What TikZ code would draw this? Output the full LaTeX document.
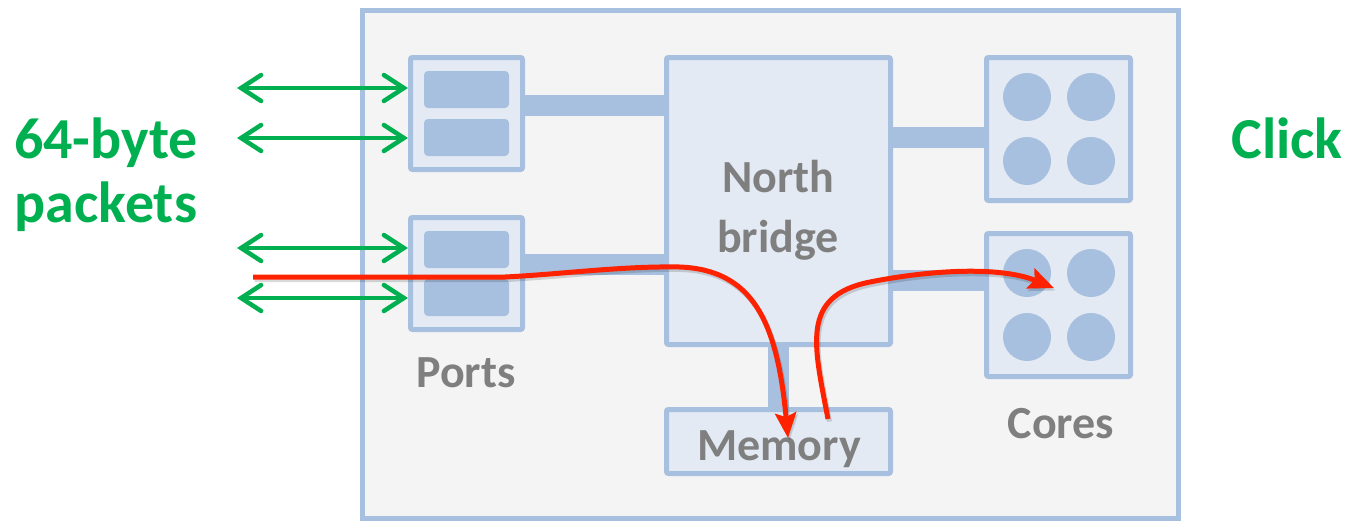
\documentclass[tikz,border=0pt]{standalone}
\usepackage{fontspec}
\setmainfont{Carlito}
\usetikzlibrary{arrows.meta}
\definecolor{boardfill}{HTML}{F4F4F4}
\definecolor{edgeblue}{HTML}{A7C0DF}
\definecolor{boxfill}{HTML}{E3EAF4}
\definecolor{labelgray}{HTML}{7F7F7F}
\definecolor{pktgreen}{HTML}{00B050}
\definecolor{pathred}{HTML}{FF2200}
\pgfdeclarelayer{boardlayer}
\pgfdeclarelayer{barlayer}
\pgfsetlayers{boardlayer,barlayer,main}
\begin{document}
\begin{tikzpicture}[x=1pt,y=-1pt,
  unit/.style={draw=edgeblue, fill=boxfill, line width=5pt, rounded corners=2pt, inner sep=0pt},
  slot/.style={fill=edgeblue, rounded corners=4pt, minimum width=85pt, minimum height=37pt, inner sep=0pt},
  core/.style={circle, fill=edgeblue, minimum size=48pt, inner sep=0pt},
  bar/.style={draw=edgeblue, line width=21pt},
  graylabel/.style={text=labelgray, font=\fontsize{46}{55}\selectfont\bfseries, anchor=base, inner sep=0pt},
  greenlabel/.style={text=pktgreen, font=\fontsize{58}{70}\selectfont\bfseries, anchor=base, inner sep=0pt},
  link/.style={pktgreen, line width=4.5pt, line cap=round, >={Straight Barb[length=20pt,width=26pt,line cap=round]}, <->},
  flow/.style={pathred, line width=5pt, -{Stealth[length=25pt,width=21pt,inset=4pt]}},
  flowshadow/.style={black, opacity=0.15, line width=5pt, -{Stealth[length=25pt,width=21pt,inset=4pt]},
    transform canvas={shift={(1.5pt,-2.5pt)}}}]
\useasboundingbox (0,0) rectangle (1349,520);

% the board
\begin{pgfonlayer}{boardlayer}
  \node[draw=edgeblue, fill=boardfill, line width=5pt, minimum width=816pt, minimum height=508pt, inner sep=0pt]
    (board) at (770.5,264) {};
\end{pgfonlayer}

% ports
\node[unit, minimum width=112pt, minimum height=112pt] (pA) at (466.5,113.5) {};
\node[unit, minimum width=112pt, minimum height=112pt] (pB) at (466.5,273.5) {};
\node[slot] (sA1) at (466.5,89.5) {};
\node[slot] (sA2) at (466.5,137.5) {};
\node[slot] (sB1) at (466.5,249.5) {};
\node[slot] (sB2) at (466.5,297.5) {};

% north bridge and memory
\node[unit, minimum width=224pt, minimum height=287pt] (nb) at (778.5,201) {};
\node[unit, minimum width=224pt, minimum height=64pt] (mem) at (778.5,441.5) {};

% cores
\node[unit, minimum width=144pt, minimum height=143pt] (cA) at (1058.5,129) {};
\node[unit, minimum width=144pt, minimum height=143pt] (cB) at (1058.5,305) {};
\node[core] (cA1) at (1027,97) {};
\node[core] (cA2) at (1091,97) {};
\node[core] (cA3) at (1027,161) {};
\node[core] (cA4) at (1091,161) {};
\node[core] (cB1) at (1027,273) {};
\node[core] (cB2) at (1091,273) {};
\node[core] (cB3) at (1027,337) {};
\node[core] (cB4) at (1091,337) {};

% buses between the units
\coordinate (busA) at (0,105.5);
\coordinate (busB) at (0,264.5);
\coordinate (busC) at (0,137.5);
\coordinate (busD) at (0,280.5);
\begin{pgfonlayer}{barlayer}
  \draw[bar] (pA.center |- busA) -- (nb.center |- busA);
  \draw[bar] (pB.center |- busB) -- (nb.center |- busB);
  \draw[bar] (nb.center |- busC) -- (cA.center |- busC);
  \draw[bar] (nb.center |- busD) -- (cB.center |- busD);
  \draw[bar] (nb.center) -- (mem.center);
\end{pgfonlayer}

% labels
\node[graylabel] (nbl1) at (778,192) {North};
\node[graylabel] (nbl2) at (778,252) {bridge};
\node[graylabel] (memlbl) at (779,460) {Memory};
\node[graylabel] (ptlbl) at (466,387) {Ports};
\node[graylabel] (crlbl) at (1061,438) {Cores};
\node[greenlabel] (pk1) at (106,158) {64-byte};
\node[greenlabel] (pk2) at (106,222) {packets};
\node[greenlabel] (clk) at (1287,158) {Click};

% packet links into the ports
\coordinate (l1) at (237,88);
\coordinate (l2) at (237,138);
\coordinate (l3) at (237,248);
\coordinate (l4) at (237,298);
\draw[link] (l1) -- (l1 -| pA.west);
\draw[link] (l2) -- (l2 -| pA.west);
\draw[link] (l3) -- (l3 -| pB.west);
\draw[link] (l4) -- (l4 -| pB.west);

% packet path: port -> memory -> core
\coordinate (rin) at (253,277);
\coordinate (rmem) at (788,438);
\coordinate (rout) at (828,419);
\coordinate (rcore) at (1054,288);
\draw[flowshadow] (rin) -- (505,277) .. controls (565,274) and (620,266) .. (680,267)
  .. controls (752,270) and (777,320) .. (rmem);
\draw[flowshadow] (rout) .. controls (814,345) and (800,296) .. (870,282)
  .. controls (930,270) and (1000,266) .. (rcore);
\draw[flow] (rin) -- (505,277) .. controls (565,274) and (620,266) .. (680,267)
  .. controls (752,270) and (777,320) .. (rmem);
\draw[flow] (rout) .. controls (814,345) and (800,296) .. (870,282)
  .. controls (930,270) and (1000,266) .. (rcore);
\end{tikzpicture}
\end{document}
